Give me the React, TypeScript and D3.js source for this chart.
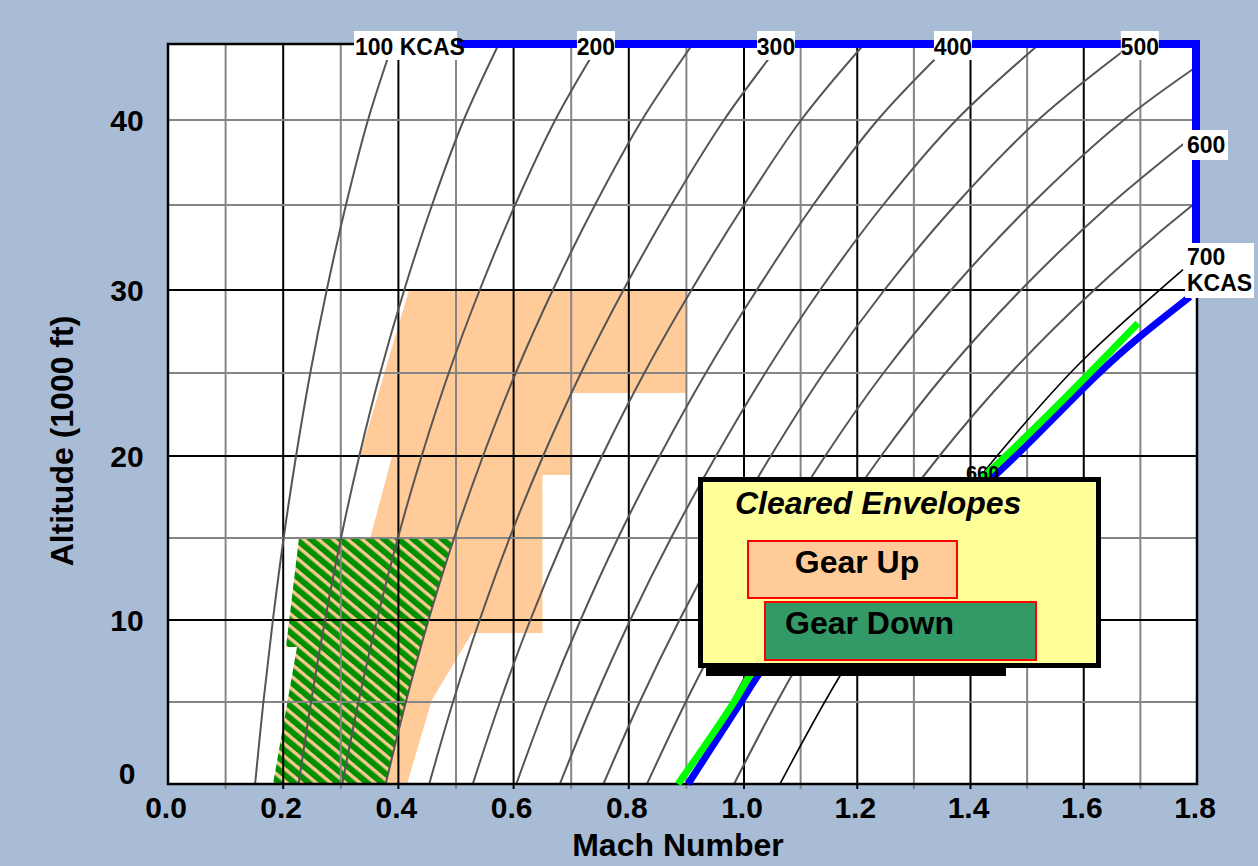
import React from 'react';
import * as d3 from 'd3';

const W = 1258;
const H = 866;

// Altitude samples (1000 ft) used by the constant-KCAS curves
const ALT_SAMPLES = [0, 5, 10, 15, 20, 25, 30, 35, 40, 45];
// Mach number read for each altitude sample, one array per KCAS curve
const MACH_100 = [0.1512, 0.1656, 0.1821, 0.2008, 0.2223, 0.247, 0.2756, 0.3089, 0.3472, 0.3899];
const MACH_150 = [0.2268, 0.2483, 0.2727, 0.3004, 0.3321, 0.3684, 0.4101, 0.4584, 0.5134, 0.5743];
const MACH_200 = [0.3024, 0.3307, 0.3628, 0.3991, 0.4404, 0.4874, 0.5412, 0.6027, 0.6723, 0.7482];
const MACH_250 = [0.3779, 0.4129, 0.4523, 0.4967, 0.5469, 0.6037, 0.6681, 0.7412, 0.8229, 0.9111];
const MACH_300 = [0.4535, 0.4948, 0.5411, 0.593, 0.6513, 0.7169, 0.7907, 0.8736, 0.9653, 1.0636];
const MACH_350 = [0.5291, 0.5764, 0.629, 0.6879, 0.7535, 0.8269, 0.9088, 1.0, 1.1009, 1.2123];
const MACH_400 = [0.6047, 0.6575, 0.7162, 0.7813, 0.8536, 0.9337, 1.0225, 1.1222, 1.236, 1.3641];
const MACH_450 = [0.6803, 0.7384, 0.8025, 0.8733, 0.9514, 1.0376, 1.1342, 1.2457, 1.3749, 1.5216];
const MACH_500 = [0.7559, 0.8188, 0.888, 0.9639, 1.0473, 1.1407, 1.2479, 1.3732, 1.5195, 1.6861];
const MACH_550 = [0.8315, 0.8989, 0.9726, 1.0533, 1.1434, 1.2463, 1.3658, 1.5063, 1.6708, 1.858];
const MACH_600 = [0.9071, 0.9786, 1.0566, 1.1434, 1.2421, 1.356, 1.489, 1.6458, 1.8295];
const MACH_650 = [0.9827, 1.0581, 1.1418, 1.2364, 1.345, 1.471, 1.6184, 1.7924, 1.997];
const KCAS_CURVES = [MACH_100, MACH_150, MACH_200, MACH_250, MACH_300, MACH_350, MACH_400, MACH_450, MACH_500, MACH_550, MACH_600, MACH_650];

// 700 KCAS line (drawn black)
const KCAS700_ALT = [0, 6.8, 20, 25.6, 31.2];
const KCAS700_MACH = [1.0636, 1.1731, 1.4468, 1.5934, 1.7753];

// Blue limit boundary curve
const BLUE_ALT = [0, 5.1, 6.8, 18.7, 27.2, 29.6];
const BLUE_MACH = [0.9028, 0.9965, 1.0283, 1.4397, 1.6993, 1.7876];
// Blue top / right envelope edge
const BLUE_EDGE_ALT = [45, 45, 29.9];
const BLUE_EDGE_MACH = [0.4, 1.8, 1.8];

// Green line
const GREEN_ALT = [0, 5.1, 6.8, 18.7, 28.0];
const GREEN_MACH = [0.8854, 0.9844, 1.0141, 1.422, 1.6958];

// Gear Up cleared envelope (orange)
const GEARUP_MACH = [0.4184, 0.9, 0.9, 0.7, 0.7, 0.65, 0.65, 0.528, 0.458, 0.415, 0.373, 0.351, 0.389, 0.333];
const GEARUP_ALT = [30, 30, 23.8, 23.8, 18.84, 18.84, 9.2, 9.2, 5.12, 0, 0, 15, 20, 20];

// Gear Down cleared envelope (hatched)
const GEARDOWN_MACH = [0.2274, 0.4967, 0.4523, 0.4129, 0.3779, 0.1823, 0.224, 0.2049];
const GEARDOWN_ALT = [15, 15, 10, 5, 0, 0, 8.35, 8.35];

// Axis ticks
const X_TICKS = [0, 0.2, 0.4, 0.6, 0.8, 1.0, 1.2, 1.4, 1.6, 1.8];
const Y_TICKS = [0, 10, 20, 30, 40];
const X_GRID = [0.1, 0.2, 0.3, 0.4, 0.5, 0.6, 0.7, 0.8, 0.9, 1.0, 1.1, 1.2, 1.3, 1.4, 1.5, 1.6, 1.7];
const Y_GRID = [5, 10, 15, 20, 25, 30, 35, 40];
const Y_GRID_MAJOR = [10, 20, 30];

// KCAS curve labels
const TOP_LABELS = ['200', '300', '400', '500'];
const TOP_LABEL_MACH = [0.743, 1.0565, 1.369, 1.699];

const FONT = '"Liberation Sans", Arial, Helvetica, sans-serif';

export default function App() {
  const x = d3.scaleLinear().domain([0, 1, 1.8]).range([168, 744, 1197]);
  const y = d3.scaleLinear().domain([0, 10, 20, 30, 40, 45]).range([784, 620, 456, 290, 120, 44]);

  const smooth = d3
    .line<[number, number]>()
    .x((d) => x(d[0]))
    .y((d) => y(d[1]))
    .curve(d3.curveCatmullRom.alpha(0.5));
  const mono = d3
    .line<[number, number]>()
    .x((d) => x(d[0]))
    .y((d) => y(d[1]))
    .curve(d3.curveMonotoneY);
  const straight = d3
    .line<[number, number]>()
    .x((d) => x(d[0]))
    .y((d) => y(d[1]));

  const zip = (m: number[], a: number[]) => m.map((v, i) => [v, a[i]] as [number, number]);
  // order by descending altitude so pixel y increases along the path
  const zipDown = (m: number[], a: number[]) => zip(m, a).slice().reverse();

  const x0 = x(0);
  const x1 = x(1.8);
  const yTop = y(45);
  const yBot = y(0);

  const gearUp = straight(zip(GEARUP_MACH, GEARUP_ALT)) + 'Z';
  const gearDown = straight(zip(GEARDOWN_MACH, GEARDOWN_ALT)) + 'Z';

  const isMajorX = (v: number) => Math.round(v * 10) % 2 === 0;

  return (
    <svg
      width={W}
      height={H}
      viewBox={`0 0 ${W} ${H}`}
      style={{ position: 'absolute', left: 0, top: 0, display: 'block' }}
      fontFamily={FONT}
    >
      <defs>
        <clipPath id="plotClip">
          <rect x={x0} y={yTop} width={x1 - x0} height={yBot - yTop} />
        </clipPath>
        <clipPath id="aboveLegend">
          <rect x={900} y={400} width={200} height={77} />
        </clipPath>
        <pattern id="hatch" patternUnits="userSpaceOnUse" width="20" height="9.4" patternTransform="rotate(40)">
          <rect width="20" height="9.4" fill="#009000" />
          <rect y="0" width="20" height="3.4" fill="#F8C890" />
        </pattern>
      </defs>

      <rect x={0} y={0} width={W} height={H} fill="#A9BCD5" />
      <rect x={x0} y={yTop} width={x1 - x0} height={yBot - yTop} fill="#ffffff" />

      {/* envelopes */}
      <path d={gearUp} fill="#FFCC99" />
      <path d={gearDown} fill="url(#hatch)" />

      {/* grid */}
      {X_GRID.map((v) => (
        <line
          key={'gx' + v}
          x1={x(v)}
          x2={x(v)}
          y1={yTop}
          y2={yBot + 5}
          stroke={isMajorX(v) ? '#000000' : '#858585'}
          strokeWidth={2}
        />
      ))}
      {Y_GRID.map((v) => (
        <line
          key={'gy' + v}
          x1={x0}
          x2={x1}
          y1={y(v)}
          y2={y(v)}
          stroke={Y_GRID_MAJOR.includes(v) ? '#000000' : '#858585'}
          strokeWidth={2}
        />
      ))}

      {/* constant KCAS curves */}
      <g clipPath="url(#plotClip)">
        {KCAS_CURVES.map((m, i) => (
          <path
            key={'k' + i}
            d={smooth(zip(m, ALT_SAMPLES.slice(0, m.length))) || ''}
            fill="none"
            stroke="#555555"
            strokeWidth={2}
          />
        ))}
        <path d={mono(zipDown(KCAS700_MACH, KCAS700_ALT)) || ''} fill="none" stroke="#000" strokeWidth={1.6} />
      </g>

      {/* plot border */}
      <rect x={x0} y={yTop} width={x1 - x0} height={yBot - yTop} fill="none" stroke="#000" strokeWidth={2.5} />

      {/* limit lines */}
      <path d={mono(zipDown(BLUE_MACH, BLUE_ALT)) || ''} fill="none" stroke="#0000FF" strokeWidth={7} />
      <path d={mono(zipDown(GREEN_MACH, GREEN_ALT)) || ''} fill="none" stroke="#00FF00" strokeWidth={7} />
      <path
        d={straight(zip(BLUE_EDGE_MACH, BLUE_EDGE_ALT)) || ''}
        fill="none"
        stroke="#0000FF"
        strokeWidth={8}
        strokeLinejoin="miter"
        transform="translate(-1,0)"
      />

      {/* partly hidden 660 label */}
      <g clipPath="url(#aboveLegend)">
        <text x={966} y={480} fontSize={20} fontWeight="bold" fill="#000">660</text>
      </g>

      {/* legend */}
      <rect x={706} y={650} width={300} height={26} fill="#000" />
      <rect x={700.5} y={479.5} width={398} height={186} fill="#FFFF99" stroke="#000" strokeWidth={5} />
      <text x={735} y={514} fontSize={32} fontWeight="bold" fontStyle="italic" fill="#000">
        Cleared Envelopes
      </text>
      <rect x={748} y={541} width={209} height={57} fill="#FFCC99" stroke="#FF0000" strokeWidth={2} />
      <text x={857} y={573} fontSize={32} fontWeight="bold" textAnchor="middle" fill="#000">
        Gear Up
      </text>
      <rect x={765} y={602} width={271} height={58} fill="#339966" stroke="#FF0000" strokeWidth={2} />
      <text x={785} y={634} fontSize={32} fontWeight="bold" fill="#000">
        Gear Down
      </text>

      {/* KCAS labels with white backgrounds */}
      <rect x={354} y={31} width={103} height={29} fill="#fff" />
      <text x={355} y={55} fontSize={23} fontWeight="bold" fill="#000">100 KCAS</text>
      {TOP_LABELS.map((t, i) => (
        <g key={'tl' + t}>
          <rect x={x(TOP_LABEL_MACH[i]) - 19} y={31} width={38} height={29} fill="#fff" />
          <text x={x(TOP_LABEL_MACH[i])} y={55} fontSize={23} fontWeight="bold" textAnchor="middle" fill="#000">
            {t}
          </text>
        </g>
      ))}
      <rect x={1183} y={130} width={45} height={30} fill="#fff" />
      <text x={1187} y={153} fontSize={23} fontWeight="bold" fill="#000">600</text>
      <rect x={1185} y={243} width={69} height={55} fill="#fff" />
      <text x={1187} y={265} fontSize={23} fontWeight="bold" fill="#000">700</text>
      <text x={1187} y={291} fontSize={23} fontWeight="bold" fill="#000">KCAS</text>

      {/* axes tick labels */}
      {X_TICKS.map((v) => (
        <text key={'xt' + v} x={x(v) - 2} y={818} fontSize={30} fontWeight="bold" textAnchor="middle" fill="#000">
          {d3.format('.1f')(v)}
        </text>
      ))}
      {Y_TICKS.map((v) => (
        <text
          key={'yt' + v}
          x={127}
          y={v === 0 ? y(v) : y(v) + 11}
          fontSize={30}
          fontWeight="bold"
          textAnchor="middle"
          fill="#000"
        >
          {v}
        </text>
      ))}

      <text x={678} y={856} fontSize={32} fontWeight="bold" textAnchor="middle" fill="#000">
        Mach Number
      </text>
      <text transform="translate(73,441) rotate(-90)" fontSize={32} fontWeight="bold" textAnchor="middle" fill="#000">
        Altitude (1000 ft)
      </text>
    </svg>
  );
}
